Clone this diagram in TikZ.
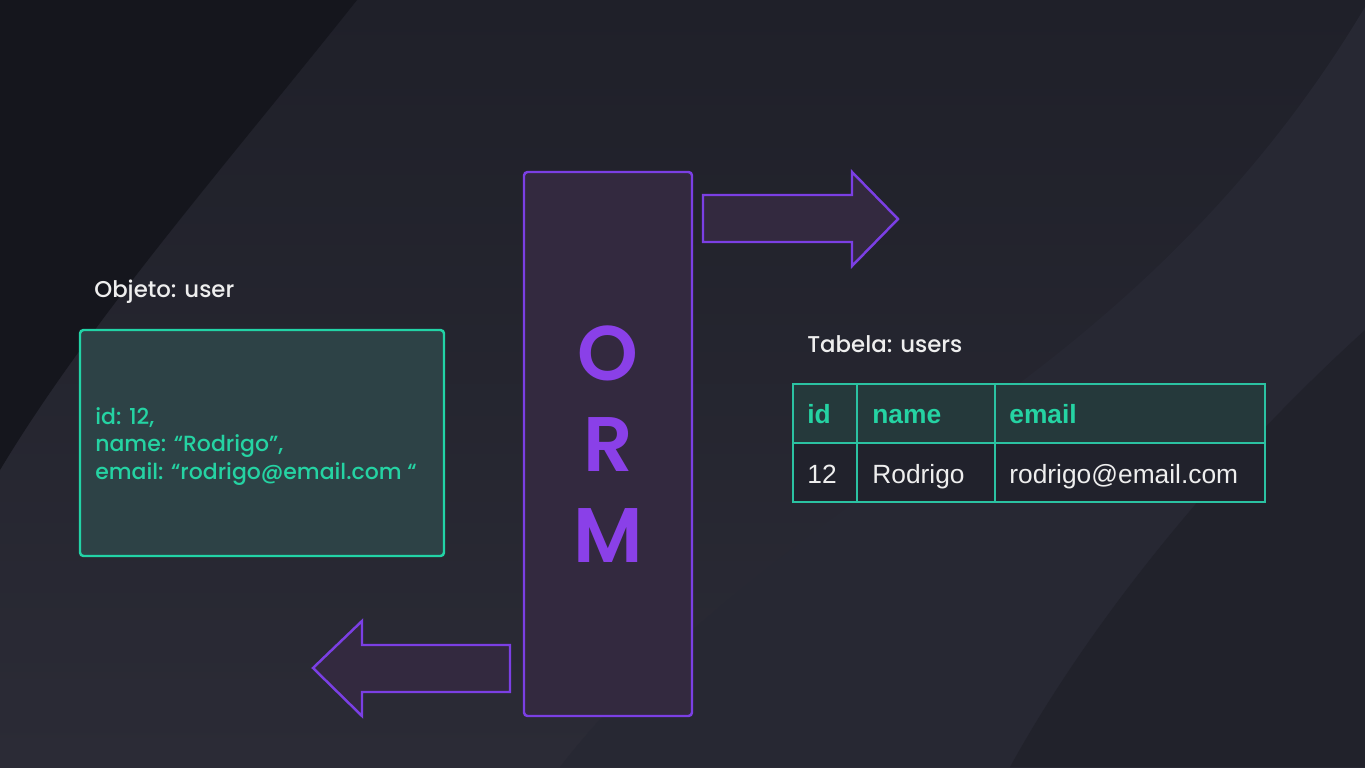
\documentclass[tikz,border=0pt]{standalone}
\usepackage{fontspec}
\setmainfont{Poppins}[UprightFont={* Medium}, BoldFont={* SemiBold}]
\newfontfamily\tablefont{Liberation Sans}
\usetikzlibrary{positioning}

\definecolor{bgtop}{HTML}{1F2029}
\definecolor{bgbottom}{HTML}{2B2B36}
\definecolor{bgdark}{HTML}{15161D}
\definecolor{bgband}{HTML}{272833}
\definecolor{ormline}{HTML}{7B3FE4}
\definecolor{ormfill}{HTML}{33293F}
\definecolor{ormtext}{HTML}{8A40E8}
\definecolor{tealline}{HTML}{22D3A6}
\definecolor{tealtext}{HTML}{25D3A3}
\definecolor{objfill}{HTML}{2D4246}
\definecolor{headfill}{HTML}{25393B}
\definecolor{bodyfill}{HTML}{21222C}
\definecolor{gridline}{HTML}{2BC2A2}
\definecolor{lighttext}{HTML}{EEEEEE}

\tikzset{
  purpleshape/.style={draw=ormline, line width=1.4pt, fill=ormfill, line join=miter},
  tealbox/.style={draw=tealline, line width=1.4pt, fill=objfill, rounded corners=2pt},
  caption/.style={anchor=base west, text=lighttext, font=\fontsize{13}{15}\selectfont, inner sep=0pt},
  cell/.style={anchor=base west, inner sep=0pt, font=\tablefont\fontsize{15}{18}\selectfont},
  headcell/.style={cell, text=tealtext, font=\tablefont\bfseries\fontsize{15}{18}\selectfont},
  bodycell/.style={cell, text=lighttext}
}

\begin{document}
\begin{tikzpicture}[x=0.02cm, y=-0.02cm]
  \useasboundingbox (0,0) rectangle (1365,767);

  %Fundo
  \shade[top color=bgtop, bottom color=bgbottom] (0,0) rectangle (1365,767);
  \fill[bgband] (1365,7) .. controls (1250,200) and (1100,330) .. (950,433)
    .. controls (800,540) and (650,650) .. (560,767) -- (1365,767) -- cycle;
  \fill[bgtop!85!bgbottom] (1365,330) .. controls (1200,480) and (1080,640) .. (1010,767) -- (1365,767) -- cycle;
  \fill[bgdark] (0,0) -- (357,0) .. controls (230,160) and (90,320) .. (0,470) -- cycle;

  %ORM
  \draw[purpleshape, rounded corners=2pt] (524,172) rectangle (692,716);
  \node[text=ormtext, align=center, font=\bfseries\fontsize{44}{52}\selectfont] (orm) at (608,444) {O\\R\\M};

  %Setas
  \draw[purpleshape] (703,195) -- (852,195) -- (852,172) -- (898,219) -- (852,266)
    -- (852,242) -- (703,242) -- cycle;
  \draw[purpleshape] (510,645) -- (362,645) -- (362,621) -- (313,668) -- (362,716)
    -- (362,692) -- (510,692) -- cycle;

  %Objeto
  \node[caption] (objlabel) at (94,297) {Objeto: user};
  \draw[tealbox] (80,330) rectangle (444,556);
  \node[anchor=base west, align=left, inner sep=0pt, text=tealtext,
    font=\fontsize{12.5}{15.6}\selectfont] (objtext) at (95,479)
    {id: 12,\\name: “Rodrigo”,\\email: “rodrigo@email.com “};

  %Tabela
  \node[caption] (tablabel) at (807,352) {Tabela: users};
  \fill[headfill] (793,384) rectangle (1265,443);
  \fill[bodyfill] (793,443) rectangle (1265,502);
  \draw[gridline, line width=0.9pt] (793,384) rectangle (1265,502);
  \draw[gridline, line width=0.9pt] (793,443) -- (1265,443);
  \draw[gridline, line width=0.9pt] (857,384) -- (857,502);
  \draw[gridline, line width=0.9pt] (995,384) -- (995,502);

  \node[headcell] (hid) at (807,423) {id};
  \node[headcell] (hname) at (872,423) {name};
  \node[headcell] (hemail) at (1009,423) {email};
  \node[bodycell] (vid) at (807,483) {12};
  \node[bodycell] (vname) at (872,483) {Rodrigo};
  \node[bodycell] (vemail) at (1009,483) {rodrigo@email.com};
\end{tikzpicture}
\end{document}
